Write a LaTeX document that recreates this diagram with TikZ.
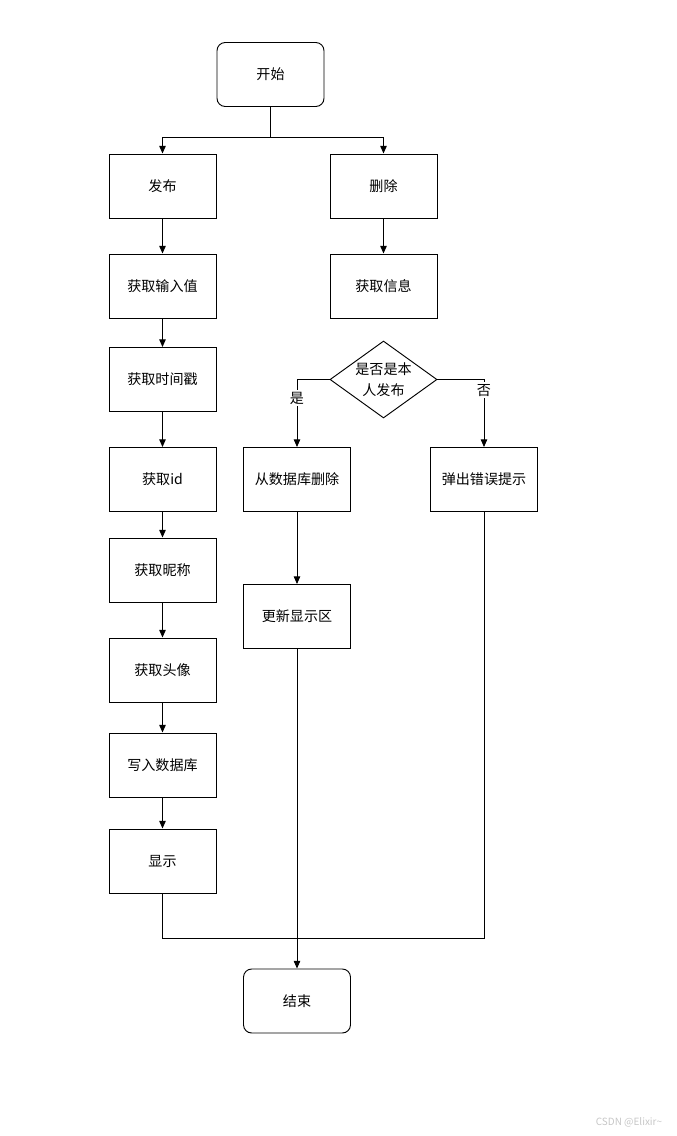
\documentclass[tikz,border=0pt]{standalone}
\usepackage{fontspec}
\setmainfont{Noto Sans CJK SC}
\usetikzlibrary{shapes.geometric, arrows.meta}

\begin{document}
\begin{tikzpicture}[x=0.03cm, y=-0.03cm,
    font=\fontsize{12}{14}\selectfont,
    procbox/.style={draw, line width=0.8pt, minimum width=3.21cm, minimum height=1.92cm, inner sep=2pt},
    termbox/.style={procbox, rounded corners=7pt},
    decbox/.style={draw, line width=0.8pt, diamond, shape aspect=1.39, minimum width=3.21cm, minimum height=2.31cm, inner sep=0pt, align=center},
    flowline/.style={line width=0.8pt, -{Triangle[length=6.5pt, width=5.5pt]}},
    joinline/.style={line width=0.8pt},
    tag/.style={fill=white, inner sep=1.5pt}]
    \useasboundingbox (0,0) rectangle (677,1136);

    % start and the two branches
    \node[termbox] (start) at (270.5,74.5) {开始};
    \node[procbox] (pub) at (162.5,186) {发布};
    \node[procbox] (del) at (383.5,186) {删除};
    \draw[flowline] (start.south) -- ++(0,30) -| (pub.north);
    \draw[flowline] (start.south) -- ++(0,30) -| (del.north);

    % publish column
    \node[procbox] (getval) at (162.5,286) {获取输入值};
    \node[procbox] (gettime) at (162.5,379.5) {获取时间戳};
    \node[procbox] (getid) at (162.5,479.5) {获取id};
    \node[procbox] (getnick) at (162.5,570) {获取昵称};
    \node[procbox] (getava) at (162.5,670) {获取头像};
    \node[procbox] (writedb) at (162.5,765) {写入数据库};
    \node[procbox] (show) at (162.5,861) {显示};
    \foreach \a/\b in {pub/getval, getval/gettime, gettime/getid, getid/getnick,
                       getnick/getava, getava/writedb, writedb/show}
        \draw[flowline] (\a) -- (\b);

    % delete column
    \node[procbox] (getinfo) at (383.5,286) {获取信息};
    \draw[flowline] (del) -- (getinfo);
    \node[decbox] (chk) at (383.5,379.5) {是否是本\\[4pt]人发布};
    \node[procbox] (rmdb) at (297,479.5) {从数据库删除};
    \node[procbox] (err) at (484,479.5) {弹出错误提示};
    \node[procbox] (upd) at (297,616.5) {更新显示区};
    \draw[flowline] (chk.west) -| (rmdb.north) node[tag, pos=0.64] {是};
    \draw[flowline] (chk.east) -| (err.north) node[tag, pos=0.58] {否};
    \draw[flowline] (rmdb) -- (upd);

    % end
    \node[termbox] (fin) at (297,1001) {结束};
    \draw[flowline] (upd) -- (fin);
    \coordinate (mrg) at (162.5,938);
    \draw[joinline] (show.south) -- (mrg) -| (err.south);

    \node[text=gray!45, font=\fontsize{8.5}{10}\selectfont] at (629,1122) {CSDN @Elixir\textasciitilde};
\end{tikzpicture}
\end{document}
